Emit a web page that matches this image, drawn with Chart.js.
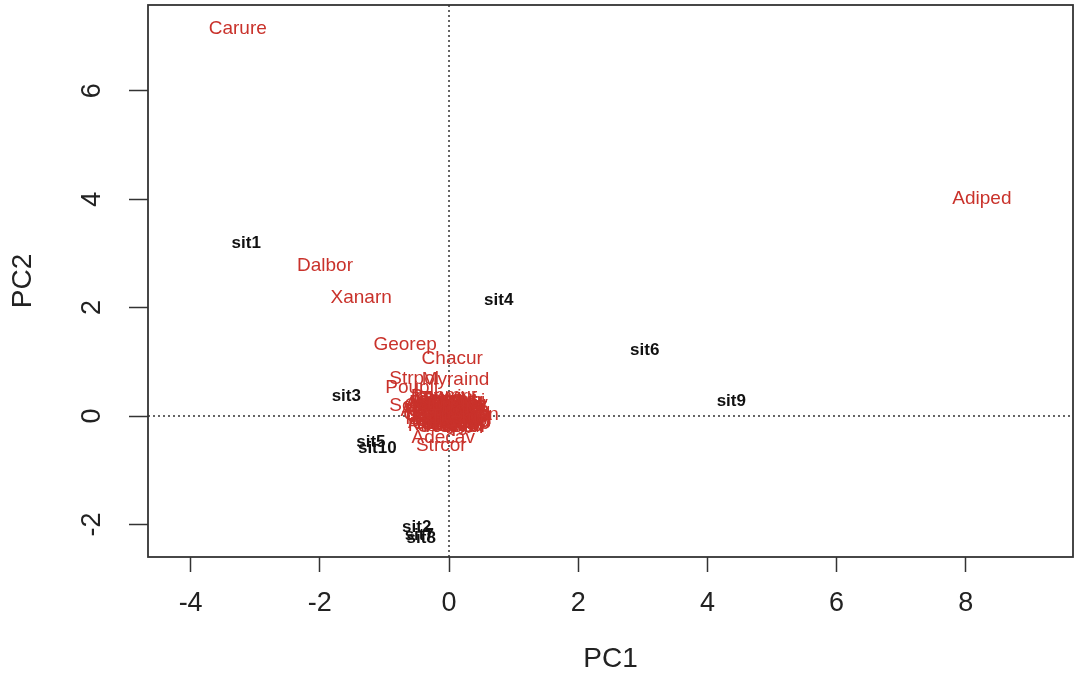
<!DOCTYPE html>
<html>
<head>
<meta charset="utf-8">
<title>PCA biplot</title>
<script src="https://cdn.jsdelivr.net/npm/chart.js@4.4.1/dist/chart.umd.min.js"></script>
<style>
  html, body { margin: 0; padding: 0; background: #fff; }
  #plot { display: block; }
</style>
</head>
<body>
<canvas id="plot" width="1080" height="682"></canvas>
<script>
// site scores (black labels)
const siteNames = ['sit1', 'sit2', 'sit3', 'sit4', 'sit5', 'sit6', 'sit7', 'sit8', 'sit9', 'sit10'];
const siteX = [-3.14, -0.50, -1.59, 0.77, -1.21, 3.03, -0.46, -0.43, 4.37, -1.11];
const siteY = [3.19, -2.05, 0.37, 2.14, -0.48, 1.22, -2.20, -2.25, 0.28, -0.59];

// species scores (red labels), most of them piled up near the origin
const speciesNames = [
    'Carure', 'Adiped', 'Dalbor', 'Xanarn', 'Georep', 'Chacur', 'Strpol', 'Myraind',
    'Poupit', 'Sorbon', 'Casguy', 'Adecav', 'Strcor',
    'Anaspi', 'Astfra', 'Bauful', 'Bowvir', 'Byrcra', 'Caspar', 'Cecpac', 'Copmar',
    'Curame', 'Dimmol', 'Erysub', 'Eugdys', 'Hymsti', 'Kiecor', 'Lafpac', 'Macrig',
    'Myrgui', 'Ourspe', 'Plapet', 'Psiyel', 'Qualgr', 'Rouinc', 'Salsup', 'Sclaur',
    'Tabaur', 'Tapgui', 'Terarg', 'Vocaty', 'Zeymon', 'Machos',
    'Aspcyl', 'Cabcan', 'Camxan', 'Cedfis', 'Chrgon', 'Cordic', 'Croflo', 'Cupver',
    'Dalmis', 'Enccon', 'Eriobl', 'Ficgui', 'Gualat', 'Guapla', 'Hirbra', 'Ingsel',
    'Jacspi', 'Lonmur', 'Luedi', 'Matgui', 'Micpra', 'Mimspp', 'Nectar', 'Ocopul',
    'Pipspp', 'Prusel', 'Rolvel', 'Sebcom', 'Sorcol', 'Trieme'
];
const speciesX = [
    -3.27, 8.25, -1.92, -1.36, -0.68, 0.05, -0.54, 0.10,
    -0.57, -0.45, 0.10, -0.09, -0.12,
    -0.30, -0.25, -0.20, -0.15, -0.12, -0.10, -0.05, -0.02,
    0.00, 0.03, 0.06, 0.08, 0.10, 0.14, 0.17, 0.20,
    0.22, -0.18, -0.08, 0.12, -0.22, 0.05, 0.18, -0.05,
    -0.28, 0.00, 0.15, -0.15, 0.24, -0.10,
    -0.25, -0.20, -0.15, -0.12, -0.08, -0.05, -0.02, 0.02,
    0.05, 0.08, 0.10, 0.13, 0.16, 0.19, 0.22, -0.27,
    -0.18, -0.06, 0.04, 0.12, -0.14, 0.00, 0.07, -0.03,
    0.20, -0.22, 0.24, 0.09, -0.10, 0.15
];
const speciesY = [
    7.15, 4.00, 2.77, 2.18, 1.31, 1.05, 0.68, 0.66,
    0.52, 0.18, 0.22, -0.41, -0.55,
    0.10, -0.12, 0.25, 0.35, 0.05, -0.15, 0.30, 0.12,
    -0.08, 0.22, 0.02, -0.14, 0.15, 0.05, -0.10, 0.10,
    -0.05, -0.02, 0.18, 0.20, 0.12, -0.18, -0.15, -0.03,
    -0.05, 0.32, 0.12, -0.16, 0.02, 0.25,
    0.20, 0.02, 0.18, -0.08, 0.05, 0.15, -0.12, 0.06,
    0.28, 0.10, -0.05, -0.18, 0.18, 0.03, 0.12, 0.02,
    0.30, 0.38, -0.03, 0.28, 0.08, 0.20, -0.20, -0.20,
    -0.12, -0.18, -0.08, 0.02, 0.12, -0.02
];

const xTicks = [-4, -2, 0, 2, 4, 6, 8];
const yTicks = [-2, 0, 2, 4, 6];

const FONT = '"Liberation Sans", Arial, Helvetica, sans-serif';
const SITE_COLOR = '#111111';
const SPECIES_COLOR = '#c9322b';
const AXIS_COLOR = '#333333';

function toPoints(xs, ys) {
    return xs.map((x, i) => ({ x: x, y: ys[i] }));
}

// dotted zero lines, frame, rotated y tick labels and the text labels
const biplotPlugin = {
    id: 'biplot',
    beforeDatasetsDraw(chart) {
        const { ctx, chartArea: a, scales } = chart;
        const x0 = scales.x.getPixelForValue(0);
        const y0 = scales.y.getPixelForValue(0);
        ctx.save();
        ctx.strokeStyle = AXIS_COLOR;
        ctx.lineWidth = 1.5;
        ctx.setLineDash([2, 3]);
        ctx.beginPath();
        ctx.moveTo(x0, a.top);
        ctx.lineTo(x0, a.bottom);
        ctx.moveTo(a.left, y0);
        ctx.lineTo(a.right, y0);
        ctx.stroke();
        ctx.restore();
    },
    afterDatasetsDraw(chart) {
        const { ctx } = chart;
        ctx.save();
        ctx.textAlign = 'center';
        ctx.textBaseline = 'middle';
        chart.data.datasets.forEach((ds, di) => {
            const meta = chart.getDatasetMeta(di);
            ctx.font = ds.labelFont;
            ctx.fillStyle = ds.labelColor;
            meta.data.forEach((pt, i) => {
                ctx.fillText(ds.names[i], pt.x, pt.y);
            });
        });
        ctx.restore();
    },
    afterDraw(chart) {
        const { ctx, chartArea: a, scales } = chart;
        ctx.save();
        ctx.strokeStyle = AXIS_COLOR;
        ctx.lineWidth = 1.8;
        ctx.strokeRect(a.left, a.top, a.right - a.left, a.bottom - a.top);
        // y tick labels read bottom-to-top like in R
        ctx.fillStyle = '#222';
        ctx.font = '27px ' + FONT;
        ctx.textAlign = 'center';
        ctx.textBaseline = 'middle';
        yTicks.forEach(v => {
            const py = scales.y.getPixelForValue(v);
            ctx.save();
            ctx.translate(93, py);
            ctx.rotate(-Math.PI / 2);
            ctx.fillText(String(v), 0, 0);
            ctx.restore();
        });
        ctx.restore();
    }
};

new Chart(document.getElementById('plot'), {
    type: 'scatter',
    data: {
        datasets: [
            {
                label: 'sites',
                data: toPoints(siteX, siteY),
                names: siteNames,
                labelColor: SITE_COLOR,
                labelFont: 'bold 17px ' + FONT,
                pointRadius: 0
            },
            {
                label: 'species',
                data: toPoints(speciesX, speciesY),
                names: speciesNames,
                labelColor: SPECIES_COLOR,
                labelFont: '19px ' + FONT,
                pointRadius: 0
            }
        ]
    },
    options: {
        responsive: false,
        animation: false,
        devicePixelRatio: 1,
        layout: { padding: { top: 5, right: 7, left: 0, bottom: 0 } },
        plugins: {
            legend: { display: false },
            tooltip: { enabled: false }
        },
        scales: {
            x: {
                type: 'linear',
                min: -4.66,
                max: 9.66,
                afterBuildTicks: s => { s.ticks = xTicks.map(v => ({ value: v })); },
                afterFit: s => { s.height = 125; },
                grid: {
                    drawOnChartArea: false,
                    drawTicks: true,
                    tickLength: 15,
                    tickWidth: 1.5,
                    tickColor: AXIS_COLOR
                },
                border: { display: false },
                ticks: {
                    color: '#222',
                    padding: 15,
                    maxRotation: 0,
                    font: { family: FONT, size: 27 }
                },
                title: {
                    display: true,
                    text: 'PC1',
                    color: '#222',
                    padding: { top: 6, bottom: 6 },
                    font: { family: FONT, size: 28 }
                }
            },
            y: {
                type: 'linear',
                min: -2.6,
                max: 7.58,
                afterBuildTicks: s => { s.ticks = yTicks.map(v => ({ value: v })); },
                afterFit: s => { s.width = 148; },
                grid: {
                    drawOnChartArea: false,
                    drawTicks: true,
                    tickLength: 19,
                    tickWidth: 1.5,
                    tickColor: AXIS_COLOR
                },
                border: { display: false },
                ticks: { display: false },
                title: {
                    display: true,
                    text: 'PC2',
                    color: '#222',
                    padding: { top: 6, bottom: 6 },
                    font: { family: FONT, size: 28 }
                }
            }
        }
    },
    plugins: [biplotPlugin]
});
</script>
</body>
</html>
